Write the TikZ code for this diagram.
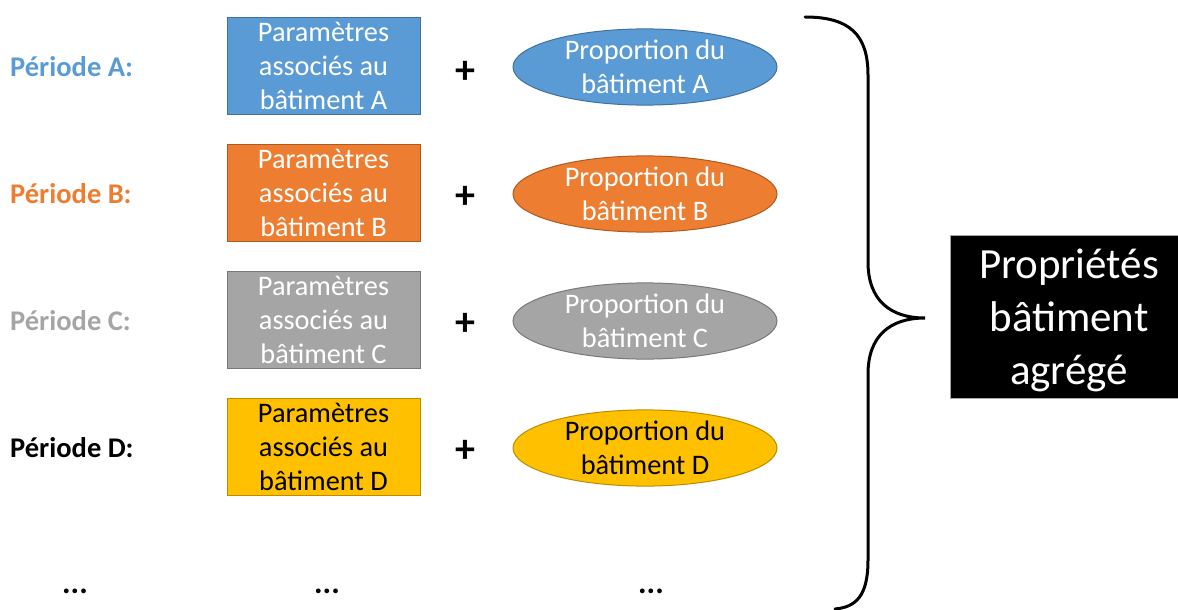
\documentclass[tikz,border=0pt]{standalone}
\usepackage{fontspec}
\setmainfont{Carlito}
\usetikzlibrary{shapes.geometric}
\definecolor{cA}{HTML}{5B9BD5}\definecolor{bA}{HTML}{41719C}
\definecolor{cB}{HTML}{ED7D31}\definecolor{bB}{HTML}{AE5A21}
\definecolor{cC}{HTML}{A5A5A5}\definecolor{bC}{HTML}{787878}
\definecolor{cD}{HTML}{FFC000}\definecolor{bD}{HTML}{BC8C00}
\tikzset{
  lbl/.style={anchor=west,font=\fontsize{28.5}{34}\selectfont\bfseries,inner sep=0pt},
  pbox/.style={draw=#1,line width=1pt,minimum width=193pt,minimum height=97pt,inner sep=0pt,align=center,font=\fontsize{28.3}{34}\selectfont},
  pell/.style={ellipse,draw=#1,line width=1pt,minimum width=264pt,minimum height=68pt,inner sep=0pt,align=center,font=\fontsize{28.3}{34}\selectfont},
  plus/.style={font=\fontsize{40}{40}\selectfont\bfseries,inner sep=0pt},
  dots/.style={font=\fontsize{32}{32}\selectfont\bfseries,inner sep=0pt},
}
\begin{document}
\begin{tikzpicture}[x=1pt,y=-1pt]
\useasboundingbox (0,0) rectangle (1178,610);
% row A
\node[lbl,text=cA] (lA) at (10,67) {Période A:};
\node[pbox=bA,fill=cA,text=white] (rA) at (323.5,66) {Paramètres\\associés au\\bâtiment A};
\node[plus] (pA) at (465,72) {+};
\node[pell=bA,fill=cA,text=white] (eA) at (645,67) {Proportion du\\bâtiment A};
% row B
\node[lbl,text=cB] (lB) at (10,194) {Période B:};
\node[pbox=bB,fill=cB,text=white] (rB) at (323.5,193) {Paramètres\\associés au\\bâtiment B};
\node[plus] (pB) at (465,197) {+};
\node[pell=bB,fill=cB,text=white] (eB) at (645,194) {Proportion du\\bâtiment B};
% row C
\node[lbl,text=cC] (lC) at (10,321) {Période C:};
\node[pbox=bC,fill=cC,text=white] (rC) at (323.5,320) {Paramètres\\associés au\\bâtiment C};
\node[plus] (pC) at (465,324) {+};
\node[pell=bC,fill=cC,text=white] (eC) at (645,321) {Proportion du\\bâtiment C};
% row D
\node[lbl,text=black] (lD) at (10,448) {Période D:};
\node[pbox=bD,fill=cD,text=black] (rD) at (323.5,447) {Paramètres\\associés au\\bâtiment D};
\node[plus] (pD) at (465,451) {+};
\node[pell=bD,fill=cD,text=black] (eD) at (645,448) {Proportion du\\bâtiment D};
% dots
\node[dots] (d1) at (75,591) {...};
\node[dots] (d2) at (327,591) {...};
\node[dots] (d3) at (651,591) {...};
% brace
\coordinate (tip) at (925,318);
\draw[line width=3pt,line cap=round] (805,17) .. controls (850,17) and (868,35) .. (868,75) -- (868,262)
  .. controls (868,300) and (890,318) .. (tip)
  .. controls (890,318) and (868,336) .. (868,374) -- (868,560)
  .. controls (868,596) and (856,607) .. (835,609);
% result
\node[draw=gray!70,fill=black,minimum width=228pt,minimum height=163pt,inner sep=0pt] (res) at (1064,316.5) {};
\node[text=white,inner sep=0pt,align=center,font=\fontsize{43}{53}\selectfont] (restext) at (1069,320) {Propriétés\\bâtiment\\agrégé};
\end{tikzpicture}
\end{document}
